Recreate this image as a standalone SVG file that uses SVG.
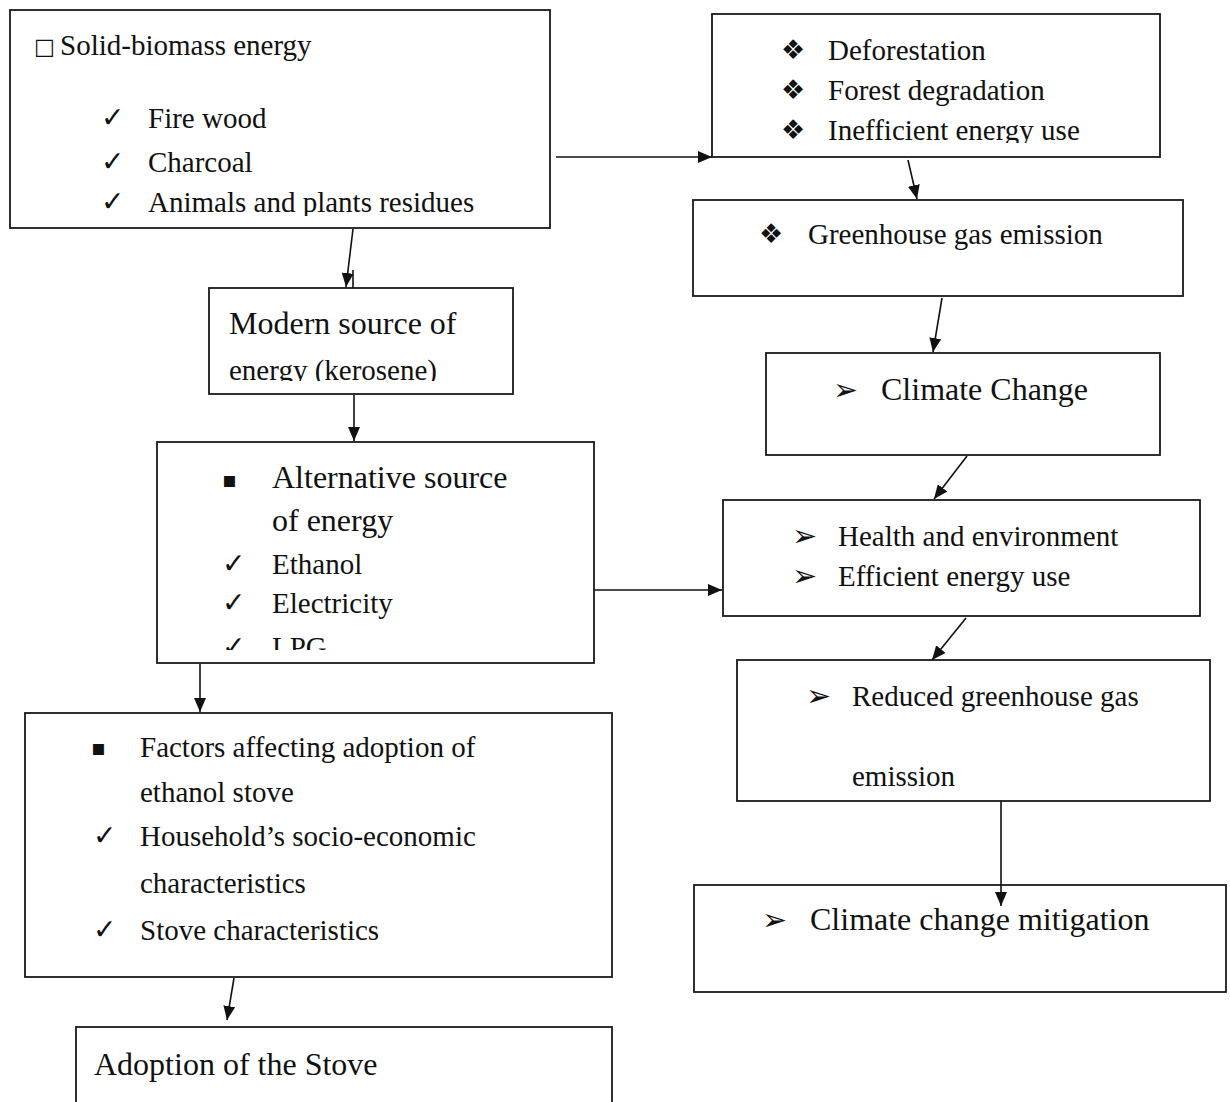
<svg xmlns="http://www.w3.org/2000/svg" width="1230" height="1102" viewBox="0 0 1230 1102">
<style>
.box{fill:#fff;stroke:#1a1a1a;stroke-width:1.8}
.t{font-family:"Liberation Serif","Times New Roman",serif;font-size:29px;fill:#111}
.L{font-size:32px}
.sym{font-family:"DejaVu Sans",sans-serif;fill:#111}
.ck{font-size:28px}
.dm{font-size:27px}
.ar{font-size:30px}
.sq{font-size:22px}
.c{stroke:#111;stroke-width:1.6;fill:none}
</style>
<defs>
<marker id="ah" viewBox="0 0 14 12" refX="14" refY="6" markerWidth="14" markerHeight="12" markerUnits="userSpaceOnUse" orient="auto">
<path d="M0,0 L14,6 L0,12 Z" fill="#111"/>
</marker>
<clipPath id="clip1"><rect x="10" y="10" width="540" height="206"/></clipPath>
<clipPath id="clip2"><rect x="712" y="14" width="448" height="129"/></clipPath>
<clipPath id="clip3"><rect x="209" y="288" width="304" height="93"/></clipPath>
<clipPath id="clip4"><rect x="157" y="442" width="437" height="208"/></clipPath>
</defs>

<g id="solid-biomass">
<rect class="box" x="10" y="10" width="540" height="218"/>
<g clip-path="url(#clip1)">
<text class="sym" x="34" y="54" font-size="22">□</text>
<text class="t" x="60" y="55">Solid-biomass energy</text>
<text class="sym ck" x="101" y="127">✓</text>
<text class="t" x="148" y="128">Fire wood</text>
<text class="sym ck" x="101" y="171">✓</text>
<text class="t" x="148" y="172">Charcoal</text>
<text class="sym ck" x="101" y="211">✓</text>
<text class="t" x="148" y="212">Animals and plants residues</text>
</g>
</g>

<g id="deforestation">
<rect class="box" x="712" y="14" width="448" height="143"/>
<g clip-path="url(#clip2)">
<text class="sym dm" x="781" y="59">❖</text>
<text class="t" x="828" y="60">Deforestation</text>
<text class="sym dm" x="781" y="99">❖</text>
<text class="t" x="828" y="100">Forest degradation</text>
<text class="sym dm" x="781" y="139">❖</text>
<text class="t" x="828" y="140">Inefficient energy use</text>
</g>
</g>

<g id="greenhouse">
<rect class="box" x="693" y="200" width="490" height="96"/>
<text class="sym dm" x="759" y="243">❖</text>
<text class="t" x="808" y="244">Greenhouse gas emission</text>
</g>

<g id="climate-change">
<rect class="box" x="766" y="353" width="394" height="102"/>
<text class="sym ar" x="833" y="400">➢</text>
<text class="t L" x="881" y="400">Climate Change</text>
</g>

<g id="health">
<rect class="box" x="723" y="500" width="477" height="116"/>
<text class="sym ar" x="792" y="546">➢</text>
<text class="t" x="838" y="546">Health and environment</text>
<text class="sym ar" x="792" y="586">➢</text>
<text class="t" x="838" y="586">Efficient energy use</text>
</g>

<g id="reduced">
<rect class="box" x="737" y="660" width="473" height="141"/>
<text class="sym ar" x="806" y="706">➢</text>
<text class="t" x="852" y="706">Reduced greenhouse gas</text>
<text class="t" x="852" y="786">emission</text>
</g>

<g id="mitigation">
<rect class="box" x="694" y="885" width="532" height="107"/>
<text class="sym ar" x="762" y="930">➢</text>
<text class="t L" x="810" y="930">Climate change mitigation</text>
</g>

<g id="modern">
<rect class="box" x="209" y="288" width="304" height="106"/>
<g clip-path="url(#clip3)">
<text class="t L" x="229" y="334">Modern source of</text>
<text class="t" x="229" y="380" font-size="30">energy (kerosene)</text>
</g>
</g>

<g id="alternative">
<rect class="box" x="157" y="442" width="437" height="221"/>
<g clip-path="url(#clip4)">
<text class="sym sq" x="222" y="487">▪</text>
<text class="t L" x="272" y="488">Alternative source</text>
<text class="t L" x="272" y="531">of energy</text>
<text class="sym ck" x="222" y="573">✓</text>
<text class="t" x="272" y="574">Ethanol</text>
<text class="sym ck" x="222" y="612">✓</text>
<text class="t" x="272" y="613">Electricity</text>
<text class="sym ck" x="222" y="656">✓</text>
<text class="t" x="272" y="657">LPG</text>
</g>
</g>

<g id="factors">
<rect class="box" x="25" y="713" width="587" height="264"/>
<text class="sym sq" x="91" y="755">▪</text>
<text class="t" x="140" y="757">Factors affecting adoption of</text>
<text class="t" x="140" y="802">ethanol stove</text>
<text class="sym ck" x="93" y="845">✓</text>
<text class="t" x="140" y="846">Household’s socio-economic</text>
<text class="t" x="140" y="893">characteristics</text>
<text class="sym ck" x="93" y="939">✓</text>
<text class="t" x="140" y="940">Stove characteristics</text>
</g>

<g id="adoption">
<rect class="box" x="76" y="1027" width="536" height="90"/>
<text class="t L" x="94" y="1075">Adoption of the Stove</text>
</g>

<g id="connectors">
<line class="c" x1="556" y1="157" x2="712" y2="157" marker-end="url(#ah)"/>
<line class="c" x1="908" y1="160" x2="917" y2="199" marker-end="url(#ah)"/>
<line class="c" x1="942" y1="298" x2="933" y2="352" marker-end="url(#ah)"/>
<line class="c" x1="967" y1="456" x2="934" y2="499" marker-end="url(#ah)"/>
<line class="c" x1="594" y1="590" x2="722" y2="590" marker-end="url(#ah)"/>
<line class="c" x1="966" y1="618" x2="932" y2="660" marker-end="url(#ah)"/>
<line class="c" x1="1001" y1="801" x2="1001" y2="906" marker-end="url(#ah)"/>
<line class="c" x1="353" y1="229" x2="346" y2="287" stroke-width="2.6" marker-end="url(#ah)"/>
<line class="c" x1="353" y1="270" x2="353" y2="288"/>
<line class="c" x1="354" y1="395" x2="354" y2="441" marker-end="url(#ah)"/>
<line class="c" x1="200" y1="664" x2="200" y2="712" marker-end="url(#ah)"/>
<line class="c" x1="234" y1="978" x2="227" y2="1020" marker-end="url(#ah)"/>
</g>
</svg>
